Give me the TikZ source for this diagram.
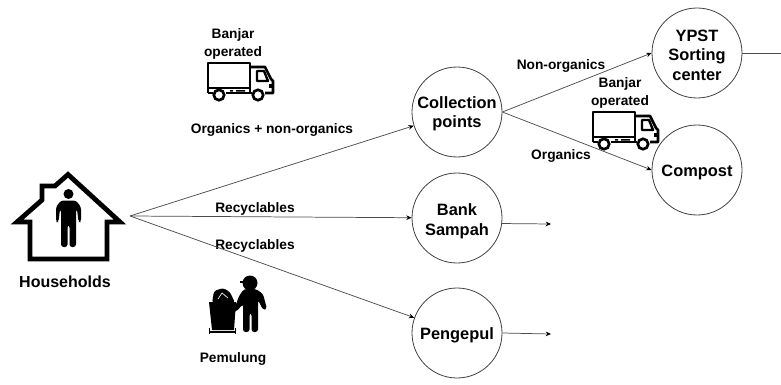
\documentclass[tikz,border=0pt]{standalone}
\usepackage{fontspec}
\setmainfont{Liberation Sans}
\usetikzlibrary{arrows.meta}
\tikzset{
place/.style={circle, draw=black!75, line width=0.6pt, minimum size=67.5pt, inner sep=0pt, align=center, font=\fontsize{12.3}{14.5}\selectfont\bfseries},
lab/.style={inner sep=0pt, align=center, font=\fontsize{10.3}{13.2}\selectfont\bfseries},
flow/.style={draw=black!70, line width=0.55pt, -{Stealth[black,length=4pt,width=3.5pt]}},
truck/.pic={
\draw[line width=2pt, line join=round] (0,30) -- (0,0) -- (42,0) -- (42,30);
\draw[line width=1.1pt] (0,25) -- (42,25);
\draw[line width=2pt, line join=round] (42,4) -- (57,4) -- (63,16) -- (65,18) -- (65,30) -- (57,30);
\draw[line width=1.8pt, line join=round] (49,8) -- (56,8) -- (60,18) -- (49,18) -- cycle;
\draw[line width=2pt] (0,30) -- (5,30) (18,30) -- (44,30);
\fill (61,21) rectangle (65,25);
\fill (22,27) rectangle (25,28.5) (28,27) rectangle (37,28.5);
\draw[line width=2pt, fill=white] (11,32) circle (5.2);
\draw[line width=2pt, fill=white] (50,32) circle (5.2);
}
}
\newcommand{\lowr}{\rule{0pt}{12pt}}
\begin{document}
\begin{tikzpicture}[x=0.75pt, y=-0.75pt]
\useasboundingbox (0,0) rectangle (781,385);
\foreach \nm/\x/\y/\txt in {collection/457/112/{\lowr Collection\\points}, bank/457/218/{\rule{0pt}{14pt}Bank\\[1pt]Sampah}, pengepul/457/333/{\lowr Pengepul}, ypst/697/53/{\lowr YPST\\Sorting\\center}, compost/697/170/{\lowr Compost}}{
\node[place] (\nm) at (\x,\y) {\txt};
}
\foreach \nm/\x/\y/\txt in {bo/233/44/{Banjar\\operated}, bo2/620/93/{Banjar\\operated}, mixed/272/130/{Organics + non-organics}, rec/255/209/Recyclables, rec2/255/246/Recyclables, pem/233/359/Pemulung, nonorg/561/66/Non-organics, org/561/156/Organics}{
\node[lab] (\nm) at (\x,\y) {\txt};
}
\node[lab, font=\fontsize{12}{14}\selectfont\bfseries] (hh) at (65,282) {Households};
\coordinate (hub) at (130,216);
\coordinate (bankout) at (551,224);
\coordinate (pengout) at (551,334);
\coordinate (ypstout) at (781,53);
\draw[flow] (hub) -- (collection);
\draw[flow] (hub) -- (bank);
\draw[flow] (hub) -- (pengepul);
\draw[flow] (collection.east) -- (ypst.west);
\draw[flow] (collection.east) -- (compost.west);
\draw[flow] (bank.-7) -- (bankout);
\draw[flow] (pengepul.east) -- (pengout);
\draw[draw=black!70, line width=0.55pt] (ypst.east) -- (ypstout);
% house
\draw[line width=3.6pt, miter limit=10] (17,222) -- (42,200) -- (42,186) -- (55,186) -- (68,174.5) -- (120,222) -- (107,222) -- (107,259) -- (30,259) -- (30,222) -- cycle;
\fill (68.5,194) circle (5);
\fill[rounded corners=2pt] (61,200.5) -- (76,200.5) -- (81,207) -- (81,222) -- (78.5,222) -- (77,209) -- (76,209) -- (76,247) -- (69.5,247) -- (69.5,225) -- (67.5,225) -- (67.5,247) -- (61,247) -- (61,209) -- (60,209) -- (58.5,222) -- (56,222) -- (56,207) -- cycle;
% trucks
\pic at (208,63) {truck};
\pic at (593,112) {truck};
% pemulung
\fill (250,283) circle (7.5);
\fill (240,280.5) rectangle (248,283);
\fill[rounded corners=2pt] (244,289) -- (256,289) -- (263,294) -- (267,309) -- (263,310) -- (258,300) -- (258,332) -- (251.5,332) -- (251.5,313) -- (249.5,313) -- (249.5,332) -- (243,332) -- (243,304) -- (236,312) -- (234,310) -- (239,296) -- cycle;
\fill (209,302) -- (236,302) -- (234,330) -- (212,330) -- cycle;
\fill[rounded corners=2pt] (212,303) -- (214,291) -- (223,288) -- (230,292) -- (235,303) -- cycle;
\draw[white, line width=0.5pt] (218,299) -- (222,293) -- (228,298);
\draw[line width=1pt] (209,332) -- (236,332) (209.5,328) -- (209.5,334) (235.5,328) -- (235.5,334);
\end{tikzpicture}
\end{document}
